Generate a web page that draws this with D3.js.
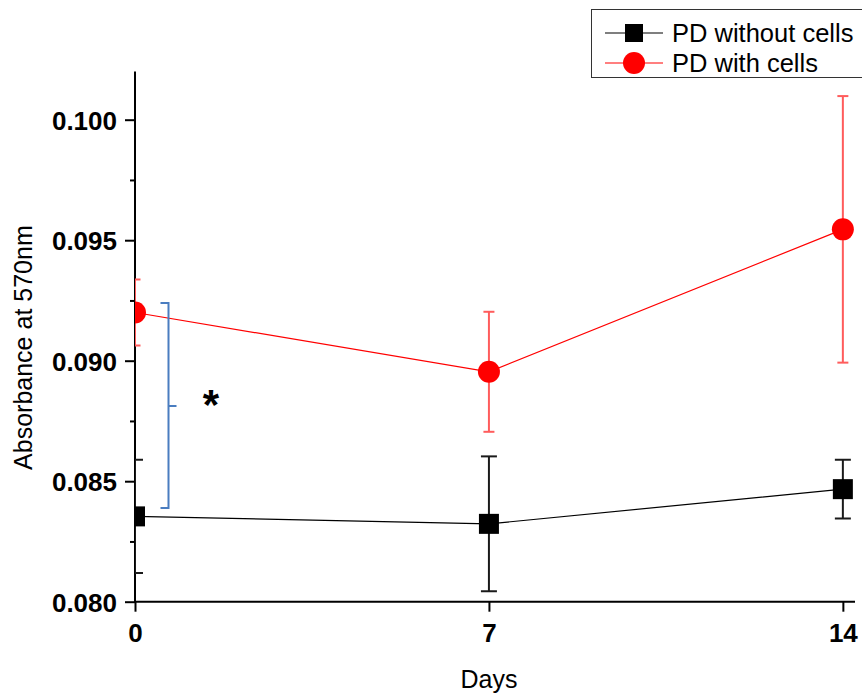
<!DOCTYPE html>
<html>
<head>
<meta charset="utf-8">
<script src="https://cdn.jsdelivr.net/npm/d3@7"></script>
<style>
  html, body { margin: 0; padding: 0; background: #fff; }
  svg { display: block; font-family: Arial, "Liberation Sans", sans-serif; }
</style>
</head>
<body>
<svg id="chart" width="862" height="695"></svg>
<script>
// Absorbance at 570 nm over culture time
const days = [0, 7, 14];
const withoutCells = [0.08354, 0.08323, 0.08467];
const withoutCellsErr = [0.00235, 0.00280, 0.00122];
const withCells = [0.09200, 0.08954, 0.09545];
const withCellsErr = [0.00137, 0.00249, 0.00553];
const yMajorTicks = [0.080, 0.085, 0.090, 0.095, 0.100];
const yMinorTicks = [0.0825, 0.0875, 0.0925, 0.0975];
const xTicks = [0, 7, 14];
const seriesNames = ["PD without cells", "PD with cells"];

const svg = d3.select("#chart");

const x = d3.scaleLinear().domain([0, 14.24]).range([135, 855]);
const y = d3.scaleLinear().domain([0.080, 0.102]).range([601.7, 71.5]);

// clip region for the plotted marks (markers at day 0 are cut by the axis)
svg.append("defs").append("clipPath").attr("id", "plotClip")
  .append("rect").attr("x", x(0)).attr("y", 0).attr("width", 862 - x(0)).attr("height", y(0.080));

// y axis
const yAxis = d3.axisLeft(y).tickValues(yMajorTicks).tickSize(10)
  .tickFormat(d3.format(".3f"));
const gy = svg.append("g").attr("transform", `translate(${x(0)},0)`).call(yAxis);
gy.select(".domain").remove();
gy.selectAll(".tick line").attr("stroke", "#000").attr("stroke-width", 2);
gy.selectAll(".tick text")
  .attr("x", -18).attr("dy", "0.36em")
  .attr("font-size", 26).attr("font-weight", "bold").attr("fill", "#000")
  .attr("font-family", "Arial, 'Liberation Sans', sans-serif");

const yMinor = d3.axisLeft(y).tickValues(yMinorTicks).tickSize(5).tickFormat("");
const gym = svg.append("g").attr("transform", `translate(${x(0)},0)`).call(yMinor);
gym.select(".domain").remove();
gym.selectAll(".tick line").attr("stroke", "#000").attr("stroke-width", 2);

svg.append("line")
  .attr("x1", x(0)).attr("x2", x(0))
  .attr("y1", y(0.102)).attr("y2", y(0.080) + 1)
  .attr("stroke", "#000").attr("stroke-width", 2);

// x axis
const xAxis = d3.axisBottom(x).tickValues(xTicks).tickSize(10).tickFormat(d3.format("d"));
const gx = svg.append("g").attr("transform", `translate(0,${y(0.080)})`).call(xAxis);
gx.select(".domain").remove();
gx.selectAll(".tick line").attr("stroke", "#000").attr("stroke-width", 2);
gx.selectAll(".tick text")
  .attr("y", 40).attr("dy", 0)
  .attr("font-size", 26).attr("font-weight", "bold").attr("fill", "#000")
  .attr("font-family", "Arial, 'Liberation Sans', sans-serif");

svg.append("line")
  .attr("x1", x(0) - 1).attr("x2", x(14.24))
  .attr("y1", y(0.080)).attr("y2", y(0.080))
  .attr("stroke", "#000").attr("stroke-width", 2);

// axis titles
svg.append("text")
  .attr("x", (x(0) + x(14)) / 2).attr("y", 688)
  .attr("text-anchor", "middle").attr("font-size", 25).attr("fill", "#000")
  .text("Days");
svg.append("text")
  .attr("transform", `translate(32,${(y(0.080) + y(0.102)) / 2 + 11}) rotate(-90)`)
  .attr("text-anchor", "middle").attr("font-size", 25).attr("fill", "#000")
  .text("Absorbance at 570nm");

// plotted series
const plot = svg.append("g").attr("clip-path", "url(#plotClip)");

function drawSeries(vals, errs, lineColor, errColor, errWidth, capHalf) {
  const pts = days.map((d, i) => ({ d, v: vals[i], e: errs[i] }));
  plot.append("path").datum(pts)
    .attr("fill", "none").attr("stroke", lineColor).attr("stroke-width", 1.2)
    .attr("d", d3.line().x(p => x(p.d)).y(p => y(p.v)));
  const eb = plot.append("g");
  pts.forEach(p => {
    eb.append("line").attr("x1", x(p.d)).attr("x2", x(p.d))
      .attr("y1", y(p.v + p.e)).attr("y2", y(p.v - p.e))
      .attr("stroke", errColor).attr("stroke-width", errWidth);
    [p.v + p.e, p.v - p.e].forEach(v => {
      eb.append("line").attr("x1", x(p.d) - capHalf).attr("x2", x(p.d) + capHalf)
        .attr("y1", y(v)).attr("y2", y(v))
        .attr("stroke", errColor).attr("stroke-width", errWidth);
    });
  });
  return pts;
}

const blackPts = drawSeries(withoutCells, withoutCellsErr, "#000", "#1a1a1a", 2, 8);
plot.selectAll("rect.sq").data(blackPts).join("rect").attr("class", "sq")
  .attr("x", p => x(p.d) - 10).attr("y", p => y(p.v) - 10)
  .attr("width", 20).attr("height", 20).attr("fill", "#000");

const redPts = drawSeries(withCells, withCellsErr, "#ff0000", "#ff5c5c", 2, 5.5);
plot.selectAll("circle.dot").data(redPts).join("circle").attr("class", "dot")
  .attr("cx", p => x(p.d)).attr("cy", p => y(p.v)).attr("r", 11)
  .attr("fill", "#ff0000");

// significance bracket between the day-0 groups
const bx = 168.5, bTop = 303, bBot = 508, bMid = 406;
const blue = "#4a7dc0";
svg.append("path")
  .attr("d", `M${bx - 8},${bTop} H${bx} V${bBot} H${bx - 8} M${bx},${bMid} H${bx + 8}`)
  .attr("fill", "none").attr("stroke", blue).attr("stroke-width", 2);
svg.append("text")
  .attr("x", 211).attr("y", 419)
  .attr("text-anchor", "middle").attr("font-size", 42).attr("font-weight", "bold")
  .attr("fill", "#000").text("*");

// legend
const legend = svg.append("g");
legend.append("rect")
  .attr("x", 591.5).attr("y", 9.5).attr("width", 290).attr("height", 68)
  .attr("fill", "#fff").attr("stroke", "#333").attr("stroke-width", 1);
const legendRows = [
  { name: seriesNames[0], color: "#000", y: 33, shape: "square" },
  { name: seriesNames[1], color: "#ff0000", y: 63, shape: "circle" }
];
legendRows.forEach(r => {
  legend.append("line").attr("x1", 605).attr("x2", 663).attr("y1", r.y).attr("y2", r.y)
    .attr("stroke", r.color).attr("stroke-width", 1.2);
  if (r.shape === "square") {
    legend.append("rect").attr("x", 634 - 9).attr("y", r.y - 9)
      .attr("width", 18).attr("height", 18).attr("fill", r.color);
  } else {
    legend.append("circle").attr("cx", 634).attr("cy", r.y).attr("r", 11).attr("fill", r.color);
  }
  legend.append("text").attr("x", 672).attr("y", r.y + 9)
    .attr("font-size", 25.5).attr("fill", "#000").text(r.name);
});
</script>
</body>
</html>
